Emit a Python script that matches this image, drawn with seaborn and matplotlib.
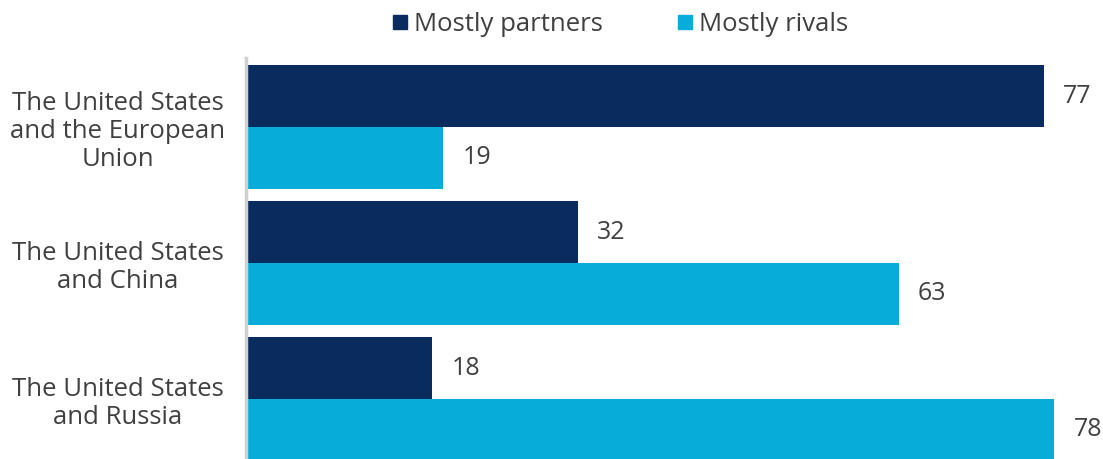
import matplotlib
matplotlib.use("Agg")
import matplotlib.pyplot as plt
import seaborn as sns
import pandas as pd
from matplotlib.lines import Line2D

categories = ["The United States\nand the European\nUnion", "The United States\nand China", "The United States\nand Russia"]
series = ["Mostly partners", "Mostly rivals"]
partners = [77, 32, 18]
rivals = [19, 63, 78]

colors = ["#0a2b5e", "#07acd8"]
text_color = "#404040"

df = pd.DataFrame({
    "category": categories * 2,
    "series": [series[0]] * 3 + [series[1]] * 3,
    "value": partners + rivals,
})

sns.set_theme(style="white")
plt.rcParams["font.family"] = ["Open Sans", "DejaVu Sans"]

fig = plt.figure(figsize=(11.03, 4.59), dpi=100)
ax = fig.add_axes([246 / 1103, 0, (1103 - 246) / 1103, (459 - 58) / 459])

sns.barplot(data=df, y="category", x="value", hue="series", palette=colors,
            orient="h", width=0.91, gap=0, ax=ax, legend=False, saturation=1,
            linewidth=0)

for c in ax.containers:
    ax.bar_label(c, padding=14, fontsize=18, color=text_color)

ax.set_xlim(0, 857 / 10.36)
ax.set_ylim(2.441, -0.507)
ax.set_xlabel("")
ax.set_ylabel("")
ax.set_xticks([])
ax.tick_params(axis="y", length=0, pad=0, labelsize=18.5, labelcolor=text_color)
for lab in ax.get_yticklabels():
    lab.set_horizontalalignment("center")
    lab.set_multialignment("center")
    lab.set_linespacing(1.15)
    lab.set_x(-128 / 857)
for s in ["top", "right", "bottom"]:
    ax.spines[s].set_visible(False)
ax.spines["left"].set_color("#d0d0d0")
ax.spines["left"].set_linewidth(2.5)

handles = [Line2D([], [], marker="s", linestyle="", markersize=10.5, color=c) for c in colors]
fig.legend(handles, series, loc="upper center", bbox_to_anchor=(619 / 1103, 1.025), ncol=2,
           frameon=False, fontsize=18.5, labelcolor=text_color, handletextpad=0.15,
           columnspacing=2.8, handlelength=0.8)

fig.savefig("out.png", dpi=100)
